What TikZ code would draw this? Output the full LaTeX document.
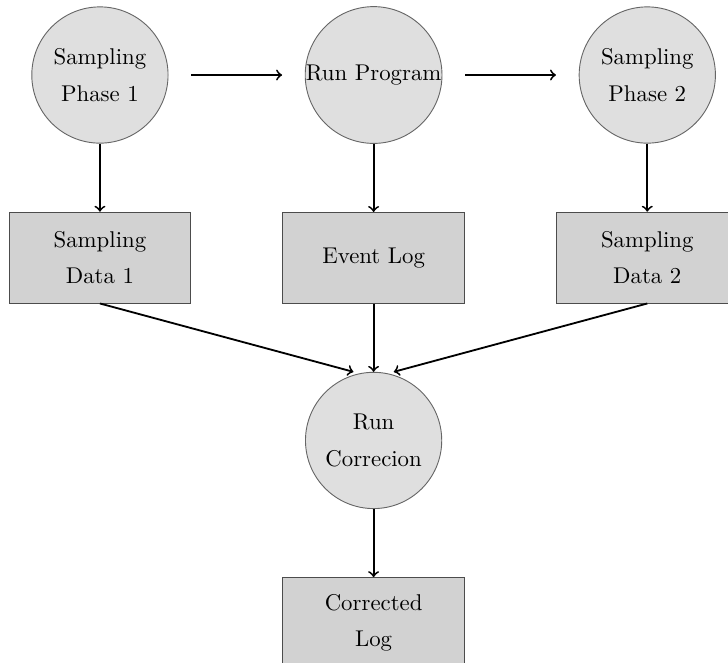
\documentclass[tikz,border=0pt]{standalone}
\usepackage{tikz}
\usetikzlibrary{positioning}
\usetikzlibrary{arrows, shapes, calc}

\begin{document}
\begin{tikzpicture}[
    stage/.style={draw=black!60, circle, fill=gray!25, minimum size=2.1cm, inner sep=0pt, align=center},
    store/.style={draw=black!70, rectangle, fill=gray!35, minimum width=2.8cm, minimum height=1.4cm, align=center},
    flow/.style={->, thick}
    ]
    \useasboundingbox (-1.54,1.156) rectangle (9.68,-9.06);

    % Nodes
    \node[stage] (phase1) at (0,0) {Sampling \\[4pt] Phase 1};
    \node[stage, right=2.1cm of phase1] (program) {Run Program};
    \node[stage, right=2.1cm of program] (phase2) {Sampling \\[4pt] Phase 2};

    \node[store, below=1.05cm of phase1] (data1) {Sampling \\[4pt] Data 1};
    \node[store, below=1.05cm of program] (eventlog) {Event Log};
    \node[store, below=1.05cm of phase2] (data2) {Sampling \\[4pt] Data 2};

    \node[stage, below=1.05cm of eventlog] (correction) {Run \\[4pt] Correcion};
    \node[store, below=1.05cm of correction] (corrected) {Corrected \\[4pt] Log};

    % Arrows
    \draw[flow, shorten <=0.35cm, shorten >=0.35cm] (phase1) -- (program);
    \draw[flow, shorten <=0.35cm, shorten >=0.35cm] (program) -- (phase2);
    \draw[flow] (phase1) -- (data1);
    \draw[flow] (program) -- (eventlog);
    \draw[flow] (phase2) -- (data2);
    \draw[flow] (data1.south) -- ([xshift=-0.31cm]correction.north);
    \draw[flow] (eventlog) -- (correction);
    \draw[flow] (data2.south) -- ([xshift=0.31cm]correction.north);
    \draw[flow] (correction) -- (corrected);
\end{tikzpicture}
\end{document}
